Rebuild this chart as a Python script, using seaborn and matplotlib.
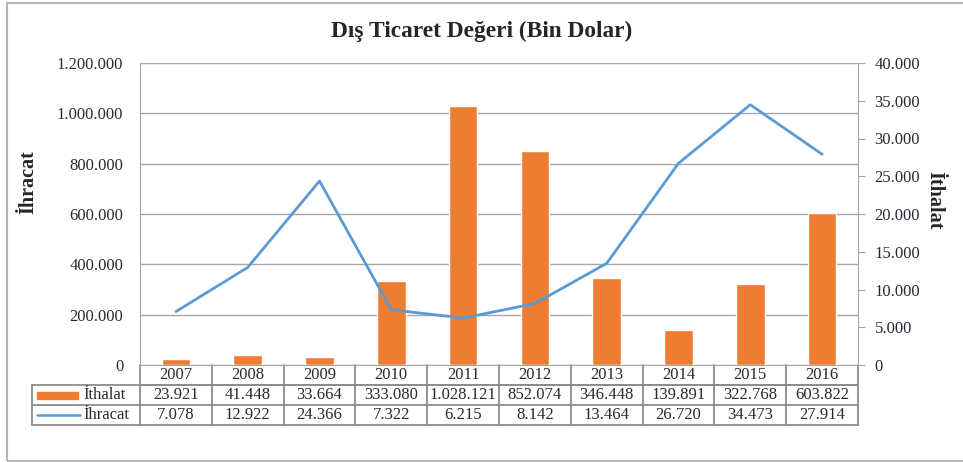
import matplotlib
matplotlib.use("Agg")
import matplotlib.pyplot as plt
import matplotlib.transforms as mtransforms
from matplotlib.patches import Rectangle
import numpy as np
import pandas as pd
import seaborn as sns

years = ["2007", "2008", "2009", "2010", "2011", "2012", "2013", "2014", "2015", "2016"]
ithalat = [23921, 41448, 33664, 333080, 1028121, 852074, 346448, 139891, 322768, 603822]
ihracat = [7078, 12922, 24366, 7322, 6215, 8142, 13464, 26720, 34473, 27914]

BAR = "#ED7D31"
LINE = "#5B9BD5"
GRID = "#A6A6A6"
TXT = "#262a36"
FS = 12


def tr(v):
    return f"{v:,}".replace(",", ".")


df = pd.DataFrame({"Yil": years, "Ithalat": ithalat, "Ihracat": ihracat})

sns.set_style("white")
plt.rcParams["font.family"] = ["Liberation Serif", "DejaVu Serif"]

fig = plt.figure(figsize=(9.63, 4.62), dpi=100)
ax = fig.add_axes([140 / 963, 1 - 365 / 462, 718 / 963, 302 / 462])

sns.barplot(data=df, x="Yil", y="Ithalat", color=BAR, width=0.4, ax=ax,
            saturation=1, zorder=3)
ax.set_xlim(-0.5, len(years) - 0.5)
ax.set_ylim(0, 1200000)
ax.set_yticks(np.arange(0, 1200001, 200000))
ax.set_yticklabels([tr(v) for v in range(0, 1200001, 200000)], color=TXT, fontsize=FS)
ax.yaxis.grid(True, color=GRID, lw=1)
ax.set_axisbelow(True)
ax.set_xticks([])
ax.set_xlabel("")
ax.set_ylabel("İhracat", fontsize=14.5, fontweight="bold", va="center")
ax.yaxis.set_label_coords(-112 / 718, 0.605)
ax.tick_params(axis="y", length=0, pad=12)
for s in ["top", "right"]:
    ax.spines[s].set_visible(False)
for s in ["left", "bottom"]:
    ax.spines[s].set_color(GRID)

ax2 = ax.twinx()
sns.lineplot(x=np.arange(len(years)), y=ihracat, color=LINE, lw=2, ax=ax2)
ax2.set_ylim(0, 40000)
ax2.set_yticks(np.arange(0, 40001, 5000))
ax2.set_yticklabels([tr(v) for v in range(0, 40001, 5000)], color=TXT, fontsize=FS)
ax2.tick_params(axis="y", length=5, color=GRID, pad=7)
ax2.set_ylabel("İthalat", fontsize=14.5, fontweight="bold", rotation=-90, va="center")
ax2.yaxis.set_label_coords(1 + 76 / 718, 0.545)
for s in ["top", "left", "bottom"]:
    ax2.spines[s].set_visible(False)
ax2.spines["right"].set_color(GRID)

fig.suptitle("Dış Ticaret Değeri (Bin Dolar)", fontsize=16.8, fontweight="bold", y=0.955)

# data table under the axes
trans = mtransforms.blended_transform_factory(ax.transData, ax.transAxes)
rh = 20 / 302
leg_left = -0.5 - (140 - 32) / 718 * len(years)
n = len(years)
lk = dict(color="#8c8c8c", lw=1.3, transform=trans, clip_on=False)
# horizontal lines
ax.plot([-0.5, n - 0.5], [-rh, -rh], **lk)
ax.plot([leg_left, n - 0.5], [-rh, -rh], **lk)
ax.plot([leg_left, n - 0.5], [-2 * rh, -2 * rh], **lk)
ax.plot([leg_left, n - 0.5], [-3 * rh, -3 * rh], **lk)
# vertical lines
for i in range(n + 1):
    ax.plot([i - 0.5, i - 0.5], [0, -3 * rh], **lk)
ax.plot([leg_left, leg_left], [-rh, -3 * rh], **lk)

tk = dict(transform=trans, ha="center", va="center", fontsize=FS, color=TXT, clip_on=False)
for i, y in enumerate(years):
    ax.text(i, -0.5 * rh, y, **tk)
    ax.text(i, -1.5 * rh, tr(ithalat[i]), **tk)
    ax.text(i, -2.5 * rh, tr(ihracat[i]), **tk)

unit = len(years) / 718
ax.add_patch(Rectangle((leg_left + 5 * unit, -1.5 * rh - 3.5 / 302), 41 * unit, 7 / 302,
                       transform=trans, color=BAR, clip_on=False))
ax.plot([leg_left + 5 * unit, leg_left + 48 * unit], [-2.5 * rh, -2.5 * rh],
        color=LINE, lw=1.8, transform=trans, clip_on=False)
ax.text(leg_left + 51 * unit, -1.5 * rh, "İthalat", transform=trans, ha="left",
        va="center", fontsize=FS, color=TXT)
ax.text(leg_left + 51 * unit, -2.5 * rh, "İhracat", transform=trans, ha="left",
        va="center", fontsize=FS, color=TXT)

fig.patches.append(Rectangle((7 / 963, 1 / 462), 1.2, 1 - 4 / 462, transform=fig.transFigure,
                             fill=False, edgecolor="#b5b5b5", lw=1.5))

fig.savefig("out.png", dpi=100)
